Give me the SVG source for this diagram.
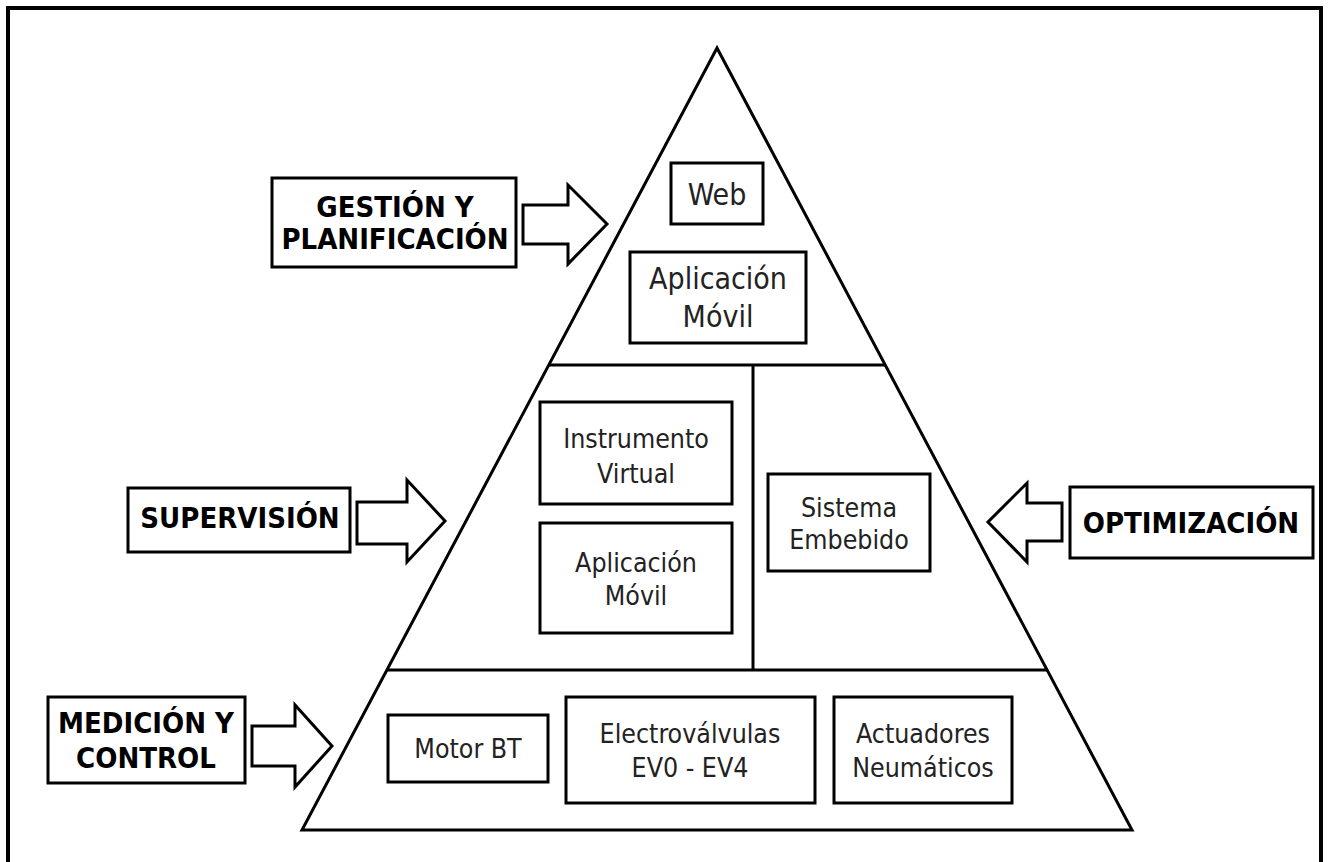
<svg xmlns="http://www.w3.org/2000/svg" width="1329" height="862" viewBox="0 0 1329 862">
  <style>
    .box { fill: #fff; stroke: #000; stroke-width: 3; }
    .line { fill: none; stroke: #000; stroke-width: 3; }
    .arrow { fill: #fff; stroke: #000; stroke-width: 3; stroke-linejoin: miter; }
    .t { font-family: "DejaVu Sans Condensed", "DejaVu Sans", sans-serif; fill: #222; text-anchor: middle; }
    .big { font-size: 30px; }
    .mid { font-size: 26.5px; }
    .lbl { font-family: "DejaVu Sans Condensed", "DejaVu Sans", sans-serif; font-weight: bold; font-size: 29px; fill: #000; text-anchor: middle; }
  </style>

  <rect width="1329" height="862" fill="#fff"/>
  <!-- outer frame (open at the bottom edge) -->
  <rect x="8" y="8" width="1313" height="900" fill="none" stroke="#000" stroke-width="4"/>

  <!-- pyramid with its tier dividers -->
  <g id="pyramid">
    <polygon class="line" points="717,48 302,830 1132,830"/>
    <line class="line" x1="549" y1="365" x2="885" y2="365"/>
    <line class="line" x1="387" y1="670" x2="1047" y2="670"/>
    <line class="line" x1="753" y1="365" x2="753" y2="670"/>
  </g>

  <!-- block arrows -->
  <g id="connectors">
    <polygon class="arrow" points="523,205 568,205 568,185 607,224 568,264 568,244 523,244"/>
    <polygon class="arrow" points="357,502 407,502 407,480 445,521 407,562 407,544 357,544"/>
    <polygon class="arrow" points="1062,503 1027,503 1027,483 988,522 1027,562 1027,541 1062,541"/>
    <polygon class="arrow" points="252,726 295,726 295,705 332,746 295,787 295,766 252,766"/>
  </g>

  <!-- level labels -->
  <g id="gestion">
    <rect class="box" x="272" y="178" width="244" height="89"/>
    <text class="lbl" x="395" y="217">GESTIÓN Y</text>
    <text class="lbl" x="395" y="249">PLANIFICACIÓN</text>
  </g>
  <g id="supervision">
    <rect class="box" x="128" y="488" width="222" height="64"/>
    <text class="lbl" x="240" y="528">SUPERVISIÓN</text>
  </g>
  <g id="optimizacion">
    <rect class="box" x="1070" y="487" width="243" height="71"/>
    <text class="lbl" x="1191" y="533">OPTIMIZACIÓN</text>
  </g>
  <g id="medicion">
    <rect class="box" x="48" y="697" width="197" height="86"/>
    <text class="lbl" x="146" y="733">MEDICIÓN Y</text>
    <text class="lbl" x="146" y="768">CONTROL</text>
  </g>

  <!-- top tier -->
  <g id="web">
    <rect class="box" x="671" y="163" width="92" height="61"/>
    <text class="t big" x="717" y="205">Web</text>
  </g>
  <g id="app-movil-top">
    <rect class="box" x="630" y="252" width="176" height="91"/>
    <text class="t big" x="718" y="289">Aplicación</text>
    <text class="t big" x="718" y="327">Móvil</text>
  </g>

  <!-- middle tier -->
  <g id="instrumento">
    <rect class="box" x="540" y="402" width="192" height="102"/>
    <text class="t mid" x="636" y="448">Instrumento</text>
    <text class="t mid" x="636" y="483">Virtual</text>
  </g>
  <g id="app-movil-mid">
    <rect class="box" x="540" y="523" width="192" height="110"/>
    <text class="t mid" x="636" y="572">Aplicación</text>
    <text class="t mid" x="636" y="605">Móvil</text>
  </g>
  <g id="sistema">
    <rect class="box" x="768" y="474" width="162" height="97"/>
    <text class="t mid" x="849" y="517">Sistema</text>
    <text class="t mid" x="849" y="549">Embebido</text>
  </g>

  <!-- bottom tier -->
  <g id="motor">
    <rect class="box" x="388" y="715" width="160" height="67"/>
    <text class="t mid" x="468" y="758">Motor BT</text>
  </g>
  <g id="electrovalvulas">
    <rect class="box" x="566" y="697" width="249" height="106"/>
    <text class="t mid" x="690" y="743">Electroválvulas</text>
    <text class="t mid" x="690" y="777">EV0 - EV4</text>
  </g>
  <g id="actuadores">
    <rect class="box" x="834" y="697" width="178" height="106"/>
    <text class="t mid" x="923" y="743">Actuadores</text>
    <text class="t mid" x="923" y="777">Neumáticos</text>
  </g>
</svg>
